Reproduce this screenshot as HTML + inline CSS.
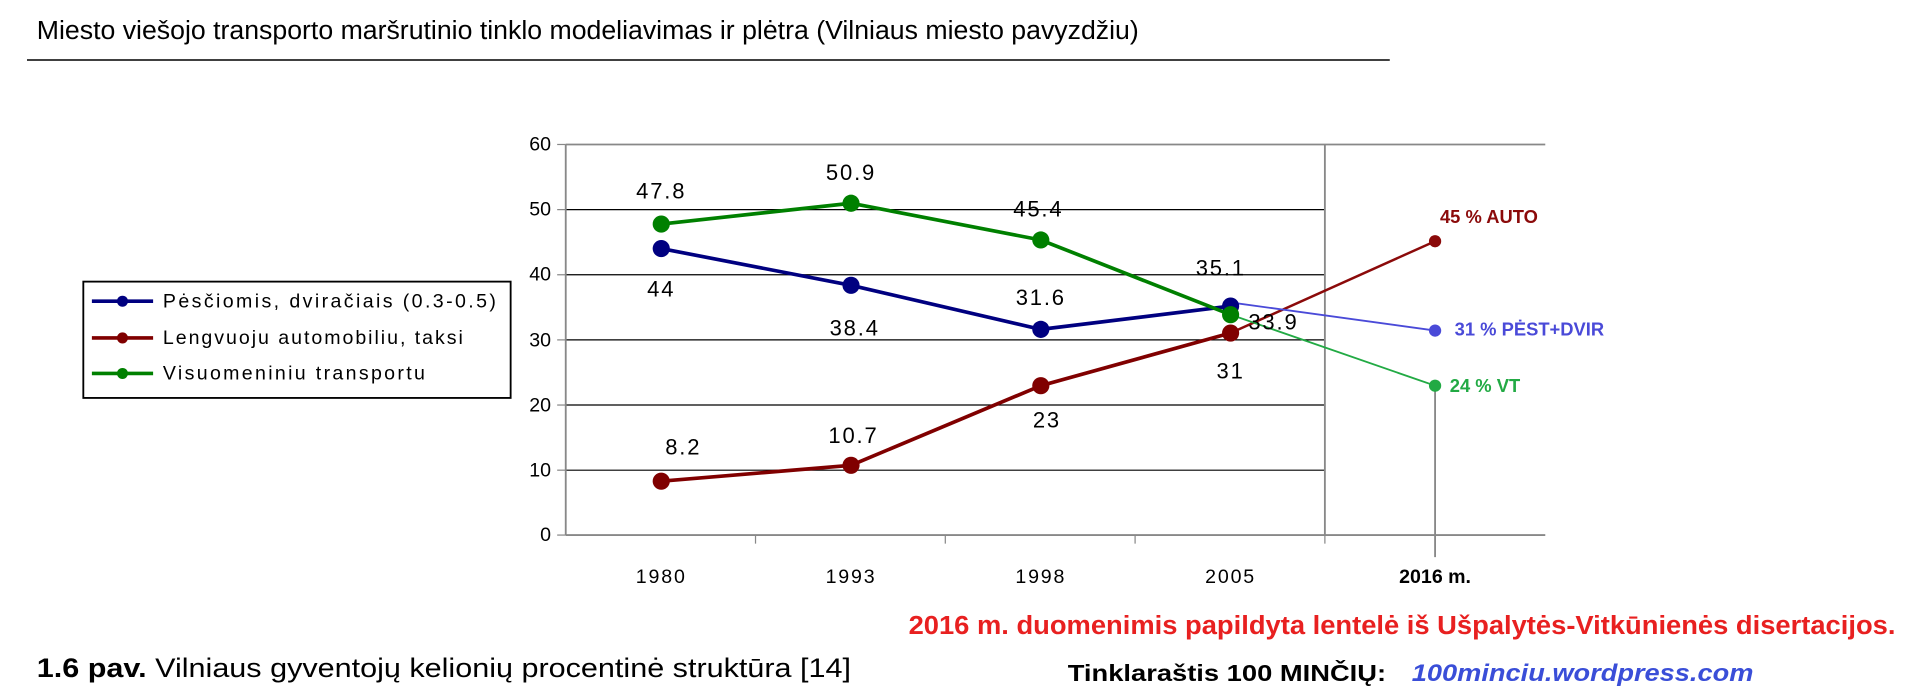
<!DOCTYPE html>
<html><head><meta charset="utf-8"><style>
html,body{margin:0;padding:0;background:#fff;width:1920px;height:700px;overflow:hidden}
svg{display:block}
text{font-family:"Liberation Sans",sans-serif}
</style></head><body>
<svg width="1920" height="700" viewBox="0 0 1568 571.7" xmlns="http://www.w3.org/2000/svg">
<text x="30" y="32" font-size="21" fill="#000" textLength="900" lengthAdjust="spacingAndGlyphs">Miesto viešojo transporto maršrutinio tinklo modeliavimas ir plėtra (Vilniaus miesto pavyzdžiu)</text>
<line x1="22" y1="49" x2="1135" y2="49" stroke="#000" stroke-width="1.3"/>
<g stroke="#000" stroke-width="1">
<line x1="462" y1="171.2" x2="1082" y2="171.2"/>
<line x1="462" y1="224.4" x2="1082" y2="224.4"/>
<line x1="462" y1="277.6" x2="1082" y2="277.6"/>
<line x1="462" y1="330.8" x2="1082" y2="330.8"/>
<line x1="462" y1="384" x2="1082" y2="384"/>
</g>
<g stroke="#888" stroke-width="1.5" fill="none">
<line x1="462" y1="118" x2="1262" y2="118"/>
<line x1="1082" y1="118" x2="1082" y2="437"/>
<line x1="1172" y1="315" x2="1172" y2="455"/>
</g>
<line x1="462" y1="437" x2="1262" y2="437" stroke="#888" stroke-width="1.5"/>
<line x1="462" y1="118" x2="462" y2="437" stroke="#888" stroke-width="1.5"/>
<g stroke="#888" stroke-width="1">
<line x1="455" y1="118" x2="462" y2="118"/><line x1="455" y1="171.2" x2="462" y2="171.2"/><line x1="455" y1="224.4" x2="462" y2="224.4"/><line x1="455" y1="277.6" x2="462" y2="277.6"/><line x1="455" y1="330.8" x2="462" y2="330.8"/><line x1="455" y1="384" x2="462" y2="384"/><line x1="455" y1="437" x2="462" y2="437"/>
<line x1="617" y1="437" x2="617" y2="444"/><line x1="772" y1="437" x2="772" y2="444"/><line x1="927" y1="437" x2="927" y2="444"/><line x1="1082" y1="437" x2="1082" y2="444"/>
</g>
<g font-size="16" text-anchor="end" fill="#000">
<text x="450" y="123">60</text><text x="450" y="176">50</text><text x="450" y="229">40</text><text x="450" y="283">30</text><text x="450" y="336">20</text><text x="450" y="389">10</text><text x="450" y="442">0</text>
</g>
<g font-size="16" text-anchor="middle" fill="#000" letter-spacing="1.5">
<text x="540" y="476">1980</text><text x="695" y="476">1993</text><text x="850" y="476">1998</text><text x="1005" y="476">2005</text>
</g>
<text x="1172" y="476" font-size="16" font-weight="bold" text-anchor="middle">2016 m.</text>
<line x1="1005" y1="272" x2="1172" y2="197" stroke="#8b0a0a" stroke-width="2"/>
<line x1="1005" y1="247" x2="1172" y2="270" stroke="#4a4ad8" stroke-width="1.5"/>
<line x1="1005" y1="257" x2="1172" y2="315" stroke="#22aa44" stroke-width="1.5"/>
<circle cx="1172" cy="197" r="5" fill="#8b0a0a"/>
<circle cx="1172" cy="270" r="5" fill="#4a4ad8"/>
<circle cx="1172" cy="315" r="5" fill="#22aa44"/>
<polyline points="540,203 695,233 850,269 1005,250" fill="none" stroke="#000080" stroke-width="3"/>
<polyline points="540,393 695,380 850,315 1005,272" fill="none" stroke="#800000" stroke-width="3"/>
<polyline points="540,183 695,166 850,196 1005,257" fill="none" stroke="#008000" stroke-width="3"/>
<g fill="#000080"><circle cx="540" cy="203" r="7"/><circle cx="695" cy="233" r="7"/><circle cx="850" cy="269" r="7"/><circle cx="1005" cy="250" r="7"/></g>
<g fill="#800000"><circle cx="540" cy="393" r="7"/><circle cx="695" cy="380" r="7"/><circle cx="850" cy="315" r="7"/><circle cx="1005" cy="272" r="7"/></g>
<g fill="#008000"><circle cx="540" cy="183" r="7"/><circle cx="695" cy="166" r="7"/><circle cx="850" cy="196" r="7"/><circle cx="1005" cy="257" r="7"/></g>
<g font-size="18" text-anchor="middle" fill="#000" letter-spacing="1.5">
<text x="540" y="242">44</text><text x="698" y="274">38.4</text><text x="850" y="249">31.6</text><text x="997" y="225">35.1</text>
<text x="558" y="371">8.2</text><text x="697" y="362">10.7</text><text x="855" y="349">23</text><text x="1005" y="309">31</text>
<text x="540" y="162">47.8</text><text x="695" y="147">50.9</text><text x="848" y="177">45.4</text><text x="1040" y="269">33.9</text>
</g>
<text x="1176" y="182" font-size="15" font-weight="bold" fill="#8b0a0a">45 % AUTO</text>
<text x="1188" y="274" font-size="15" font-weight="bold" fill="#4a4ad8">31 % PĖST+DVIR</text>
<text x="1184" y="320" font-size="15" font-weight="bold" fill="#22aa44">24 % VT</text>
<rect x="68" y="230" width="349" height="95" fill="#fff" stroke="#000" stroke-width="1.5"/>
<line x1="75" y1="246" x2="125" y2="246" stroke="#000080" stroke-width="3"/><circle cx="100" cy="246" r="4.5" fill="#000080"/>
<line x1="75" y1="276" x2="125" y2="276" stroke="#800000" stroke-width="3"/><circle cx="100" cy="276" r="4.5" fill="#800000"/>
<line x1="75" y1="305" x2="125" y2="305" stroke="#008000" stroke-width="3"/><circle cx="100" cy="305" r="4.5" fill="#008000"/>
<g font-size="16" fill="#000">
<text x="133" y="251" textLength="272" lengthAdjust="spacing">Pėsčiomis, dviračiais (0.3-0.5)</text>
<text x="133" y="281" textLength="245" lengthAdjust="spacing">Lengvuoju automobiliu, taksi</text>
<text x="133" y="310" textLength="214" lengthAdjust="spacing">Visuomeniniu transportu</text>
</g>
<text x="742" y="518" font-size="21" font-weight="bold" fill="#e82020" textLength="806" lengthAdjust="spacingAndGlyphs">2016 m. duomenimis papildyta lentelė iš Ušpalytės-Vitkūnienės disertacijos.</text>
<text x="30" y="553" font-size="22" fill="#000" textLength="665" lengthAdjust="spacingAndGlyphs"><tspan font-weight="bold">1.6 pav.</tspan> Vilniaus gyventojų kelionių procentinė struktūra [14]</text>
<text x="872" y="556" font-size="19" font-weight="bold" fill="#000" textLength="260" lengthAdjust="spacingAndGlyphs">Tinklaraštis 100 MINČIŲ:</text>
<text x="1153" y="556" font-size="20" font-weight="bold" font-style="italic" fill="#3a4ed8" textLength="279" lengthAdjust="spacingAndGlyphs">100minciu.wordpress.com</text>
</svg>
</body></html>
